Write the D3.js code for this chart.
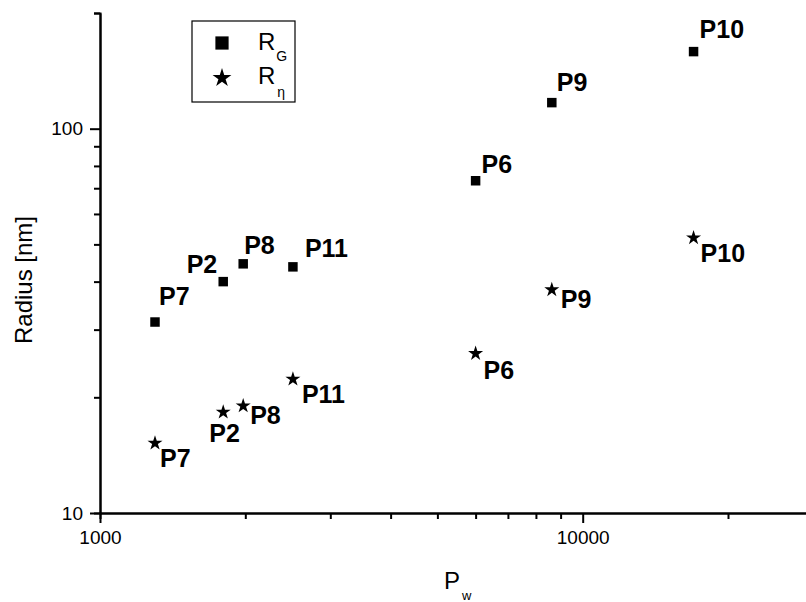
<!DOCTYPE html>
<html>
<head>
<meta charset="utf-8">
<script src="https://cdn.jsdelivr.net/npm/d3@7"></script>
<style>
    body { margin: 0; background: #fff; }
    svg { display: block; font-family: "Liberation Sans", Arial, sans-serif; }
    .axis path, .axis line { stroke: #000; stroke-width: 2; }
    .axis text { font-size: 19px; fill: #000; }
    .plabel { font-size: 25px; font-weight: bold; }
</style>
</head>
<body>
<div id="chart"></div>
<script>
// sample names and measured values
const samples = ["P7", "P2", "P8", "P11", "P6", "P9", "P10"];
const pw = [1300, 1800, 1980, 2510, 6000, 8630, 16970];
const rG = [31.4, 40.0, 44.5, 43.7, 73.2, 116.9, 158.7];
const rEta = [15.2, 18.3, 19.0, 22.3, 26.0, 38.1, 52.0];

// ticks
const xMajor = [1000, 10000];
const xMinor = [2000, 3000, 4000, 5000, 6000, 7000, 8000, 9000, 20000];
const yMajor = [10, 100];
const yMinor = [20, 30, 40, 50, 60, 70, 80, 90, 200];

// label placement (layout only): [dx, dy, anchor]
const gLabelPos = {
    P7: [4, -17, "start"], P2: [-6, -9, "end"], P8: [1, -10, "start"], P11: [12, -10, "start"],
    P6: [6, -8, "start"], P9: [5, -12, "start"], P10: [6, -14, "start"]
};
const etaLabelPos = {
    P7: [5, 24, "start"], P2: [-14, 30, "start"], P8: [7, 18, "start"], P11: [9, 24, "start"],
    P6: [8, 25, "start"], P9: [9, 18, "start"], P10: [7, 24, "start"]
};

const width = 806, height = 602;

const svg = d3.select("#chart").append("svg")
    .attr("width", width)
    .attr("height", height);

const x = d3.scaleLog().domain([1000, 30000]).range([100, 813]);
const y = d3.scaleLog().domain([10, 200]).range([513, 13]);

// minor ticks first, then major on top
svg.append("g").attr("class", "axis")
    .attr("transform", "translate(0,513)")
    .call(d3.axisBottom(x).tickValues(xMinor).tickSize(6).tickFormat(""));
svg.append("g").attr("class", "axis")
    .attr("transform", "translate(0,513)")
    .call(d3.axisBottom(x).tickValues(xMajor).tickSize(10).tickSizeOuter(0).tickPadding(8).tickFormat(d3.format("d")));

svg.append("g").attr("class", "axis")
    .attr("transform", "translate(100,0)")
    .call(d3.axisLeft(y).tickValues(yMinor).tickSize(6).tickFormat(""));
svg.append("g").attr("class", "axis")
    .attr("transform", "translate(100,0)")
    .call(d3.axisLeft(y).tickValues(yMajor).tickSize(10).tickSizeOuter(0).tickPadding(7).tickFormat(d3.format("d")));

// axis titles
svg.append("text")
    .attr("transform", "translate(32,280) rotate(-90)")
    .attr("text-anchor", "middle")
    .style("font-size", "24px")
    .text("Radius [nm]");

const xt = svg.append("text")
    .attr("x", 444).attr("y", 589)
    .style("font-size", "24px");
xt.append("tspan").text("P");
xt.append("tspan").attr("dx", 2).attr("dy", 11).style("font-size", "13px").text("w");

// data
const data = samples.map((s, i) => ({ name: s, pw: pw[i], rg: rG[i], reta: rEta[i] }));

const square = d3.symbol().type(d3.symbolSquare).size(90);
const star = d3.symbol().type(d3.symbolStar).size(70);

svg.append("g").selectAll("path")
    .data(data)
    .join("path")
    .attr("d", square)
    .attr("transform", d => `translate(${x(d.pw)},${y(d.rg)})`)
    .attr("fill", "#000");

svg.append("g").selectAll("path")
    .data(data)
    .join("path")
    .attr("d", star)
    .attr("transform", d => `translate(${x(d.pw)},${y(d.reta)})`)
    .attr("fill", "#000");

svg.append("g").selectAll("text")
    .data(data)
    .join("text")
    .attr("class", "plabel")
    .attr("x", d => x(d.pw) + gLabelPos[d.name][0])
    .attr("y", d => y(d.rg) + gLabelPos[d.name][1])
    .attr("text-anchor", d => gLabelPos[d.name][2])
    .text(d => d.name);

svg.append("g").selectAll("text")
    .data(data)
    .join("text")
    .attr("class", "plabel")
    .attr("x", d => x(d.pw) + etaLabelPos[d.name][0])
    .attr("y", d => y(d.reta) + etaLabelPos[d.name][1])
    .attr("text-anchor", d => etaLabelPos[d.name][2])
    .text(d => d.name);

// legend
const legend = svg.append("g");
legend.append("rect")
    .attr("x", 192).attr("y", 21)
    .attr("width", 103).attr("height", 81)
    .attr("fill", "none").attr("stroke", "#000").attr("stroke-width", 1.2);

legend.append("path")
    .attr("d", d3.symbol().type(d3.symbolSquare).size(175))
    .attr("transform", "translate(222,43)");
legend.append("path")
    .attr("d", d3.symbol().type(d3.symbolStar).size(110))
    .attr("transform", "translate(222,78)");

const l1 = legend.append("text").attr("x", 258).attr("y", 50).style("font-size", "24px");
l1.append("tspan").text("R");
l1.append("tspan").attr("dx", 1).attr("dy", 11).style("font-size", "14px").text("G");

const l2 = legend.append("text").attr("x", 258).attr("y", 84).style("font-size", "24px");
l2.append("tspan").text("R");
l2.append("tspan").attr("dx", 2).attr("dy", 13).style("font-size", "14px").text("η");
</script>
</body>
</html>
